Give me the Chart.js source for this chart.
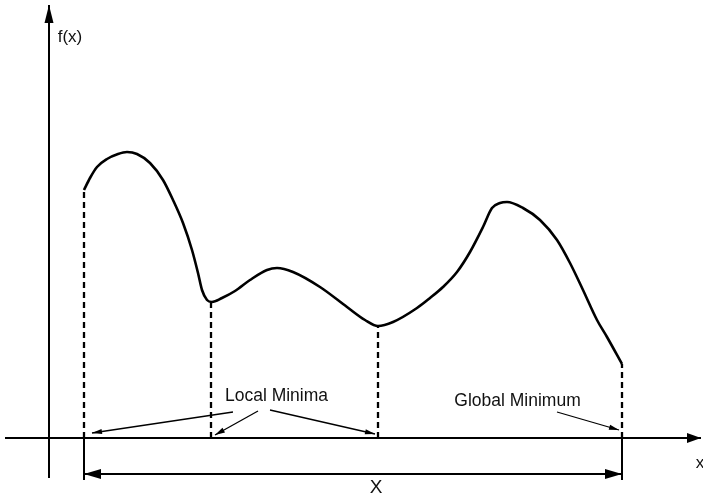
<!DOCTYPE html>
<html lang="en">
<head>
<meta charset="UTF-8">
<title>Local and global minima</title>
<style>
  body { margin: 0; background: #fff; }
  canvas { display: block; }
</style>
</head>
<body>
<canvas id="chart" width="703" height="498"></canvas>
<script src="https://cdn.jsdelivr.net/npm/chart.js"></script>
<script>
// f(x), axes cross at (0, 0)
const curveX = [3.5, 4.1, 4.8, 5.8, 6.9, 7.8, 8.8, 10.1, 11.4, 12.4, 13.4, 14.3, 14.9, 15.3, 15.8, 16.3, 17.3, 18.6, 20.1, 21.8, 22.8, 24.4, 27.1, 29.8, 31.6, 32.9, 34.4, 36.8, 38.1, 39.4, 40.8, 42.1, 43.4, 44.3, 45.1, 45.8, 47.4, 49.1, 50.8, 52.1, 53.4, 54.8, 55.8, 57.3]
const curveY = [24.8, 26.0, 27.1, 27.9, 28.4, 28.6, 28.4, 27.5, 25.8, 23.8, 21.5, 18.8, 16.5, 14.8, 13.8, 13.6, 14.0, 14.7, 15.8, 16.8, 17.0, 16.6, 15.1, 13.1, 11.8, 11.2, 11.6, 13.0, 14.0, 15.1, 16.6, 18.6, 21.1, 23.0, 23.5, 23.6, 23.0, 21.8, 19.8, 17.5, 14.8, 11.8, 10.1, 7.4]

// dashed drops from the curve to the x axis (ends, local minima, global minimum)
const dropX = [3.5, 16.2, 32.9, 57.3]
const dropTop = [24.8, 13.6, 11.2, 7.4]

// axes extent
const xAxisFrom = -4.4, xAxisTo = 65.2
const yAxisFrom = -4.0, yAxisTo = 43.3

// the interval X under the axis
const rangeFrom = 3.5, rangeTo = 57.3, rangeY = -3.6, tickBottom = -4.2

// pointer arrows: start -> tip
const pointerX0 = [18.4, 20.9, 22.1, 50.8]
const pointerY0 = [2.6, 2.7, 2.8, 2.6]
const pointerX1 = [4.3, 16.6, 32.6, 57.0]
const pointerY1 = [0.5, 0.3, 0.4, 0.8]

// texts
const labelText = ['f(x)', 'Local Minima', 'Global Minimum', 'x', 'X']
const labelX = [2.1, 22.75, 46.85, 65.1, 32.7]
const labelY = [40.1, 4.2, 3.7, -2.5, -5.0]

const ink = '#000'

function seg(x0, y0, x1, y1, extra) {
  return Object.assign({
    data: [{ x: x0, y: y0 }, { x: x1, y: y1 }],
    showLine: true,
    borderColor: ink,
    borderWidth: 2,
    pointRadius: 0,
    fill: false
  }, extra || {})
}

const datasets = []

datasets.push({
  data: curveX.map((x, i) => ({ x: x, y: curveY[i] })),
  showLine: true,
  borderColor: ink,
  borderWidth: 2.6,
  pointRadius: 0,
  cubicInterpolationMode: 'monotone',
  fill: false
})

dropX.forEach((x, i) => datasets.push(seg(x, 0, x, dropTop[i], { borderWidth: 2.3, borderDash: [6, 4] })))

datasets.push(seg(xAxisFrom, 0, xAxisTo, 0, { arrow: 'end', headLen: 14, headW: 5 }))
datasets.push(seg(0, yAxisFrom, 0, yAxisTo, { arrow: 'end', headLen: 18, headW: 4.5 }))

datasets.push(seg(rangeFrom, 0, rangeFrom, tickBottom))
datasets.push(seg(rangeTo, 0, rangeTo, tickBottom))
datasets.push(seg(rangeFrom, rangeY, rangeTo, rangeY, { arrow: 'both', headLen: 17, headW: 5 }))

pointerX0.forEach((x, i) => datasets.push(seg(x, pointerY0[i], pointerX1[i], pointerY1[i], { borderWidth: 1.3, arrow: 'end', headLen: 10, headW: 2.6 })))

function head(ctx, from, to, len, w) {
  const ang = Math.atan2(to.y - from.y, to.x - from.x)
  ctx.save()
  ctx.translate(to.x, to.y)
  ctx.rotate(ang)
  ctx.beginPath()
  ctx.moveTo(0, 0)
  ctx.lineTo(-len, -w)
  ctx.lineTo(-len, w)
  ctx.closePath()
  ctx.fillStyle = ink
  ctx.fill()
  ctx.restore()
}

const arrowPlugin = {
  id: 'arrows',
  afterDatasetsDraw(chart) {
    const ctx = chart.ctx
    chart.data.datasets.forEach((ds, i) => {
      if (!ds.arrow) return
      const pts = chart.getDatasetMeta(i).data
      const a = pts[0], b = pts[pts.length - 1]
      head(ctx, a, b, ds.headLen, ds.headW)
      if (ds.arrow === 'both') head(ctx, b, a, ds.headLen, ds.headW)
    })
  }
}

const labelSize = [17, 17.5, 17.5, 17, 19]

const textPlugin = {
  id: 'texts',
  afterDraw(chart) {
    const ctx = chart.ctx
    const sx = chart.scales.x, sy = chart.scales.y
    ctx.save()
    ctx.fillStyle = '#111'
    ctx.textAlign = 'center'
    ctx.textBaseline = 'middle'
    labelText.forEach((t, i) => {
      ctx.font = labelSize[i] + 'px "Liberation Sans", Arial, sans-serif'
      ctx.fillText(t, sx.getPixelForValue(labelX[i]), sy.getPixelForValue(labelY[i]))
    })
    ctx.restore()
  }
}

new Chart(document.getElementById('chart'), {
  type: 'scatter',
  data: { datasets: datasets },
  options: {
    responsive: false,
    animation: false,
    layout: { padding: 0 },
    plugins: { legend: { display: false }, tooltip: { enabled: false } },
    scales: {
      x: { type: 'linear', display: false, min: -4.9, max: 65.4 },
      y: { type: 'linear', display: false, min: -6.0, max: 43.8 }
    }
  },
  plugins: [arrowPlugin, textPlugin]
})
</script>
</body>
</html>
